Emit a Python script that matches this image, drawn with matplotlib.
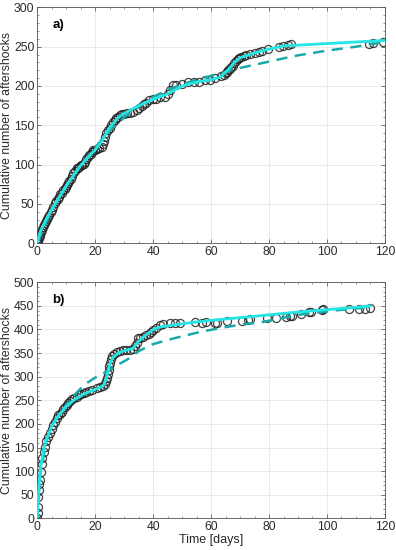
import numpy as np
import matplotlib
matplotlib.use("Agg")
import matplotlib.pyplot as plt
from matplotlib.ticker import MultipleLocator

plt.rcParams['font.family'] = ['Liberation Sans', 'DejaVu Sans']

# panel a) observed cumulative counts (time in days, count)
obs_a_t = [0, 0.2, 0.4, 0.6, 0.8, 1, 1.3, 1.6, 2, 2.3, 2.6, 3, 3.4, 3.8, 4.2, 4.6, 5, 5.5, 6.1, 6.6, 7, 7.5,
           8, 8.5, 9, 9.5, 10, 10.4, 10.7, 11.1, 11.5, 12, 12.5, 13, 13.6, 14, 14.5, 15, 15.5, 16, 16.4,
           17, 17.5, 18, 18.5, 19, 19.3, 19.8, 20.5, 21.2, 22.2, 22.6, 23, 23.4, 23.9, 24.4, 25, 25.5,
           26.2, 26.8, 27.3, 27.9, 28.5, 29.2, 30, 31, 32, 33, 34.3, 35.2, 36, 36.8, 37.7, 38.5, 40, 41,
           42.3, 44, 45, 45.8, 46.8, 48, 50, 52, 54, 56, 58, 59.5, 61.5, 63.6, 64.4, 65, 65.6, 66, 66.5,
           67, 67.5, 68, 68.6, 69.2, 69.8, 70.5, 71.2, 72, 73.3, 75, 76.5, 77.5, 79.5, 83.5, 84.7, 86.5,
           87.5, 114.5, 116, 119.5]
obs_a_n = [0, 2, 4, 7, 9, 12, 14, 17, 21, 23, 25, 28, 31, 33, 36, 39, 42, 46, 51, 54, 56, 59,
           62, 64, 67, 69, 72, 74, 76, 79, 82, 85, 89, 92, 95, 96, 97, 99, 100, 101, 103,
           107, 109, 112, 114, 116, 118, 119, 120, 121, 122, 126, 130, 135, 140, 144, 147, 150,
           154, 157, 159, 161, 163, 164, 164, 165, 165, 167, 169, 172, 175, 177, 178, 182, 183, 184,
           186, 186, 190, 195, 201, 201, 203, 205, 205, 205, 207, 208, 210, 213, 214, 216, 218, 220, 222,
           224, 226, 229, 232, 234, 236, 237, 238, 239, 241, 242, 243, 245, 247, 249, 251, 252,
           253, 253, 255, 256]

# panel a) model curves
fit_a_t = [0, 1, 3, 5, 10, 15, 20, 22, 25, 28, 30, 35, 40, 45, 50, 55, 60, 63, 66, 68, 70, 75, 80, 85,
           90, 100, 110, 120]
fit_a_n = [0, 14, 30, 43, 73, 99, 119, 128, 147, 160, 165, 175, 183, 190, 200, 205, 208, 211, 221, 230,
           236, 242, 247, 251, 252, 254, 256, 258]
dash_a_t = [0, 5, 10, 15, 20, 25, 30, 35, 40, 45, 50, 55, 60, 65, 70, 80, 86, 90, 100, 110, 115, 120]
dash_a_n = [0, 42, 72, 99, 122, 143, 160, 174, 186, 195, 202, 208, 213, 218, 223, 231, 236, 239, 245, 250,
            253, 256]

# panel b) observed cumulative counts
obs_b_t = [0, 0.1, 0.2, 0.35, 0.5, 0.7, 0.9, 1.2, 1.5, 1.8, 2.2, 2.7, 3.2, 3.8, 4.4, 5, 5.5, 6.1, 6.7,
           7.3, 7.9, 8.4, 9, 9.6, 10.2, 10.7, 11.4, 12.1, 12.8, 13.6, 14.4, 15.2, 16, 17, 18, 19,
           20.5, 21.6, 22.6, 23.3, 23.9, 24.2, 24.4, 24.6, 24.8, 25, 25.4, 25.9, 26.5, 27.4, 28.5,
           29.6, 30.8, 32, 33.1, 33.7, 34.3, 34.9, 35.6, 36.5, 37.5, 38.5, 39.3, 40, 41, 42.3, 43.5,
           45.8, 47.5, 49.2, 54.4, 57, 58.4, 61.2, 61.9, 65.6, 70.8, 72.7, 73.4, 79.4, 82.3, 85.8,
           87.2, 88, 90.9, 93.8, 94.4, 98.4, 98.8, 107.6, 111, 113, 115]
obs_b_n = [0, 12, 25, 46, 60, 72, 81, 98, 116, 128, 140, 152, 163, 172, 180, 189, 197, 205, 212,
           218, 222, 226, 231, 235, 240, 244, 248, 252, 255, 258, 261, 264, 266, 268, 270, 272,
           275, 279, 281, 284, 290, 297, 305, 314, 322, 330, 338, 343, 347, 353, 355,
           356, 357, 357, 358, 364, 372, 381, 381, 385, 388, 391, 395, 399, 404, 410, 411,
           413, 413, 413, 416, 413, 415, 414, 414, 418, 419, 420, 422, 424, 425, 427,
           428, 429, 432, 436, 438, 441, 443, 443, 444, 444, 446]

# panel b) model curves
fit_b_t = [0, 0.3, 1, 2, 3, 5, 7, 10, 13, 16, 20, 22, 23, 24, 25, 26, 28, 30, 32, 33, 35, 37, 40, 43,
           50, 55, 63, 70, 80, 90, 100, 110, 115]
fit_b_n = [0, 40, 100, 140, 165, 195, 215, 237, 252, 263, 273, 278, 283, 300, 325, 340, 350, 355, 358,
           360, 375, 386, 400, 406, 412, 416, 421, 425, 431, 437, 442, 447, 450]
dash_b_t = [0, 1, 3, 5, 7, 10, 13, 15, 17, 20, 24, 28, 31, 35, 40, 47, 55, 63, 70, 78, 89, 95, 104, 113]
dash_b_n = [0, 90, 160, 195, 215, 240, 262, 275, 286, 298, 311, 326, 336, 354, 369, 381, 393, 403, 410,
            416, 430, 435, 441, 446]

panels = [
    ("a)", obs_a_t, obs_a_n, fit_a_t, fit_a_n, dash_a_t, dash_a_n, 300, 277),
    ("b)", obs_b_t, obs_b_n, fit_b_t, fit_b_n, dash_b_t, dash_b_n, 500, 462),
]

fig = plt.figure(figsize=(3.96, 5.5), dpi=100)
rects = [[0.094, 0.558, 0.878, 0.4285], [0.094, 0.0576, 0.878, 0.4292]]

for rect, (lab, ot, on, ft, fn, dt, dn, ymax, ylab) in zip(rects, panels):
    ax = fig.add_axes(rect)
    ax.plot(ot, on, 'o', ms=5.8, mfc='none', mec='#222222', mew=0.9, alpha=0.85, zorder=2)
    ax.plot(dt, dn, '--', color='#1aa9a9', lw=1.8, dashes=(4.5, 3), zorder=3)
    ax.plot(ft, fn, '-', color='#22e6e6', lw=2.0, zorder=4)
    ax.set_xlim(0, 120)
    ax.set_ylim(0, ymax)
    ax.xaxis.set_major_locator(MultipleLocator(20))
    ax.xaxis.set_minor_locator(MultipleLocator(5))
    ax.yaxis.set_major_locator(MultipleLocator(50))
    ax.yaxis.set_minor_locator(MultipleLocator(10))
    ax.grid(True, which='major', color='#e6e6e6', lw=0.6)
    ax.set_axisbelow(True)
    ax.tick_params(which='both', direction='in', top=True, right=True, labelsize=8.8,
                   colors='#444444', labelcolor='#2a2a2a', pad=2)
    ax.tick_params(which='major', length=3, width=0.5)
    ax.tick_params(which='minor', length=1.5, width=0.4)
    for s in ax.spines.values():
        s.set_color('#555555')
        s.set_linewidth(0.6)
    ax.set_ylabel('Cumulative number of aftershocks', fontsize=8.8, labelpad=1, color='#2a2a2a')
    ax.text(7.2, ylab, lab, fontsize=9.5, fontweight='bold', ha='center', va='center')
    if lab == "b)":
        ax.set_xlabel('Time [days]', fontsize=9, labelpad=1, color='#2a2a2a')

fig.savefig('out.png', dpi=100)
